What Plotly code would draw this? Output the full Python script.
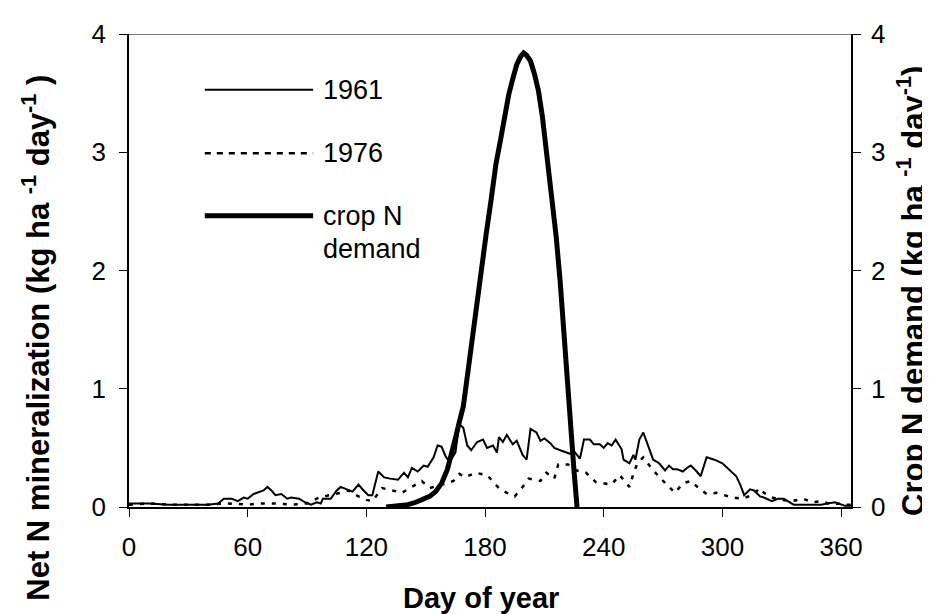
import plotly.graph_objects as go

# ---- data ----
days_1961 = [0, 10, 20, 30, 40, 45, 48, 52, 55, 58, 60, 63, 65, 68, 70, 72, 74, 77, 80, 82, 86, 89, 92, 95, 97,
             98, 102, 105, 107, 110, 113, 116, 118, 121, 123, 126, 129, 132, 136, 139, 141, 143, 146, 149, 151,
             154, 156, 158, 160, 162, 165, 167, 169, 171, 173, 176, 179, 181, 184, 186, 187, 189, 191, 194, 196,
             199, 201, 203, 206, 208, 210, 213, 215, 218, 220, 223, 225, 228, 230, 233, 235, 238, 240, 242, 244,
             246, 249, 250, 253, 255, 256, 258, 260, 262, 265, 268, 271, 273, 275, 277, 280, 282, 284, 287, 289,
             292, 296, 300, 303, 307, 309, 311, 314, 316, 319, 321, 325, 328, 331, 333, 336, 345, 350, 353, 357,
             362, 365]
mineral_1961 = [0.03, 0.03, 0.02, 0.02, 0.02, 0.03, 0.07, 0.07, 0.05, 0.08, 0.07, 0.11, 0.12, 0.14, 0.17, 0.14,
                0.10, 0.11, 0.07, 0.08, 0.07, 0.04, 0.02, 0.04, 0.03, 0.07, 0.07, 0.14, 0.17, 0.15, 0.13, 0.19,
                0.15, 0.10, 0.10, 0.30, 0.25, 0.24, 0.23, 0.29, 0.25, 0.33, 0.30, 0.35, 0.34, 0.42, 0.52, 0.51,
                0.43, 0.38, 0.46, 0.70, 0.67, 0.52, 0.48, 0.55, 0.57, 0.50, 0.52, 0.46, 0.59, 0.55, 0.61, 0.53,
                0.56, 0.44, 0.40, 0.66, 0.63, 0.56, 0.58, 0.54, 0.50, 0.48, 0.47, 0.45, 0.47, 0.41, 0.57, 0.57,
                0.53, 0.53, 0.50, 0.54, 0.52, 0.57, 0.49, 0.40, 0.37, 0.44, 0.40, 0.57, 0.63, 0.53, 0.40, 0.37,
                0.31, 0.35, 0.32, 0.32, 0.30, 0.33, 0.35, 0.30, 0.26, 0.42, 0.40, 0.37, 0.32, 0.26, 0.19, 0.10,
                0.15, 0.14, 0.09, 0.08, 0.05, 0.07, 0.07, 0.05, 0.02, 0.02, 0.02, 0.03, 0.04, 0.01, 0.01]

days_1976 = [0, 10, 20, 30, 40, 50, 60, 66, 74, 82, 90, 96, 102, 107, 111, 116, 120, 123, 128, 133, 138, 143,
             148, 152, 156, 160, 164, 167, 170, 175, 181, 187, 191, 195, 199, 202, 208, 211, 215, 217, 222, 226,
             231, 236, 240, 244, 248, 253, 255, 257, 260, 265, 270, 276, 280, 284, 288, 292, 297, 301, 305, 310,
             315, 319, 321, 325, 330, 335, 341, 345, 350, 355, 358, 362, 365]
mineral_1976 = [0.02, 0.03, 0.02, 0.02, 0.02, 0.03, 0.02, 0.03, 0.03, 0.02, 0.03, 0.08, 0.10, 0.12, 0.14, 0.09,
                0.06, 0.05, 0.16, 0.14, 0.12, 0.17, 0.22, 0.16, 0.18, 0.20, 0.22, 0.28, 0.25, 0.29, 0.27, 0.16,
                0.12, 0.09, 0.17, 0.24, 0.22, 0.29, 0.24, 0.36, 0.36, 0.31, 0.29, 0.21, 0.20, 0.19, 0.27, 0.17,
                0.28, 0.37, 0.42, 0.31, 0.22, 0.12, 0.20, 0.22, 0.16, 0.11, 0.12, 0.10, 0.08, 0.07, 0.10, 0.16,
                0.12, 0.08, 0.06, 0.05, 0.07, 0.04, 0.05, 0.02, 0.03, 0.02, 0.02]

days_crop = [130, 135, 141, 145, 148, 152, 155, 158, 161, 163, 165, 167, 169, 171, 173, 175.5, 178, 180.5, 183,
             185.5, 188, 190, 192, 194, 196, 198, 199.5, 201, 203, 205, 207, 209, 210.5, 212, 214, 216, 218, 220,
             222, 223.5, 225, 226.5]
crop_demand = [0.0, 0.005, 0.02, 0.04, 0.06, 0.09, 0.13, 0.20, 0.32, 0.44, 0.58, 0.72, 0.85, 1.10, 1.37, 1.65,
               1.96, 2.30, 2.59, 2.90, 3.12, 3.32, 3.49, 3.62, 3.74, 3.81, 3.84, 3.82, 3.77, 3.66, 3.52, 3.30,
               3.08, 2.85, 2.59, 2.28, 1.90, 1.40, 0.95, 0.60, 0.30, 0.0]

x_ticks = [0, 60, 120, 180, 240, 300, 360]
y_ticks = [0, 1, 2, 3, 4]

FONT = "Liberation Sans, Arial, sans-serif"
TICK_FONT = dict(family=FONT, size=26, color="black")
XTITLE_FONT = dict(family=FONT, size=29, color="black")
YTITLE_FONT = dict(family=FONT, size=31, color="black")
LEG_FONT = dict(family=FONT, size=27, color="black")

fig = go.Figure()
fig.add_trace(go.Scatter(x=days_1961, y=mineral_1961, mode="lines", name="1961",
                         line=dict(color="black", width=2), showlegend=False))
fig.add_trace(go.Scatter(x=days_1976, y=mineral_1976, mode="lines", name="1976",
                         line=dict(color="black", width=2.5, dash="4px,7px"), showlegend=False))
fig.add_trace(go.Scatter(x=days_crop, y=crop_demand, mode="lines", name="crop N demand",
                         line=dict(color="black", width=5), showlegend=False, yaxis="y2"))

axis_common = dict(range=[0, 4], tickvals=y_ticks, showgrid=False, zeroline=False,
                   showline=True, linecolor="black", linewidth=1.5,
                   tickfont=TICK_FONT,
                   ticks="outside", ticklen=8, tickcolor="black", tickwidth=1)

fig.update_layout(
    width=930, height=614,
    margin=dict(l=121, r=87, t=26, b=115),
    paper_bgcolor="white", plot_bgcolor="white",
    font=dict(family=FONT, color="black"),
    xaxis=dict(range=[0, 365], tickvals=x_ticks, showgrid=False, zeroline=False,
               showline=True, linecolor="black", linewidth=1.5,
               ticks="outside", ticklen=8, tickcolor="black", tickwidth=1,
               tickfont=TICK_FONT, ticklabelstandoff=8),
    yaxis=dict(**axis_common, ticklabelstandoff=8),
    yaxis2=dict(**axis_common, overlaying="y", side="right", anchor="x", ticklabelstandoff=5),
    yaxis3=dict(range=[0, 4], tickvals=y_ticks, overlaying="y", side="right", anchor="x",
                showticklabels=False, showline=False, showgrid=False, zeroline=False,
                ticks="inside", ticklen=8, tickcolor="black", tickwidth=1),
)

# axis titles
fig.add_annotation(text="<b>Day of year</b>", xref="paper", yref="paper", x=0.487, y=-0.193,
                   xanchor="center", yanchor="middle", showarrow=False, font=XTITLE_FONT)
fig.add_annotation(text="<b>Net N mineralization (kg ha <sup>-1</sup> day<sup>-1</sup> )</b>",
                   xref="paper", yref="paper", x=-0.128, y=0.357, xanchor="center", yanchor="middle",
                   textangle=-90, showarrow=False, font=YTITLE_FONT)
fig.add_annotation(text="<b>Crop N demand (kg ha <sup>-1</sup> day<sup>-1</sup>)</b>",
                   xref="paper", yref="paper", x=1.084, y=0.456, xanchor="center", yanchor="middle",
                   textangle=-90, showarrow=False, font=YTITLE_FONT)

# top border of plot area
fig.add_shape(type="line", xref="paper", yref="y", x0=0, x1=1, y0=4, y1=4,
              line=dict(color="#808080", width=2))

# hand-drawn legend
leg_x0, leg_x1, txt_x = 0.105, 0.255, 0.266
fig.add_shape(type="line", xref="paper", yref="paper", x0=leg_x0, x1=leg_x1, y0=0.882, y1=0.882,
              line=dict(color="black", width=2))
fig.add_shape(type="line", xref="paper", yref="paper", x0=leg_x0, x1=leg_x1, y0=0.748, y1=0.748,
              line=dict(color="black", width=2.5, dash="6px,6px"))
fig.add_shape(type="line", xref="paper", yref="paper", x0=leg_x0, x1=leg_x1, y0=0.616, y1=0.616,
              line=dict(color="black", width=5))
for txt, yy in [("1961", 0.882), ("1976", 0.748), ("crop N", 0.616), ("demand", 0.545)]:
    fig.add_annotation(text=txt, xref="paper", yref="paper", x=txt_x, y=yy, xanchor="left", yanchor="middle",
                       showarrow=False, font=LEG_FONT)

fig.write_html("out.html")
